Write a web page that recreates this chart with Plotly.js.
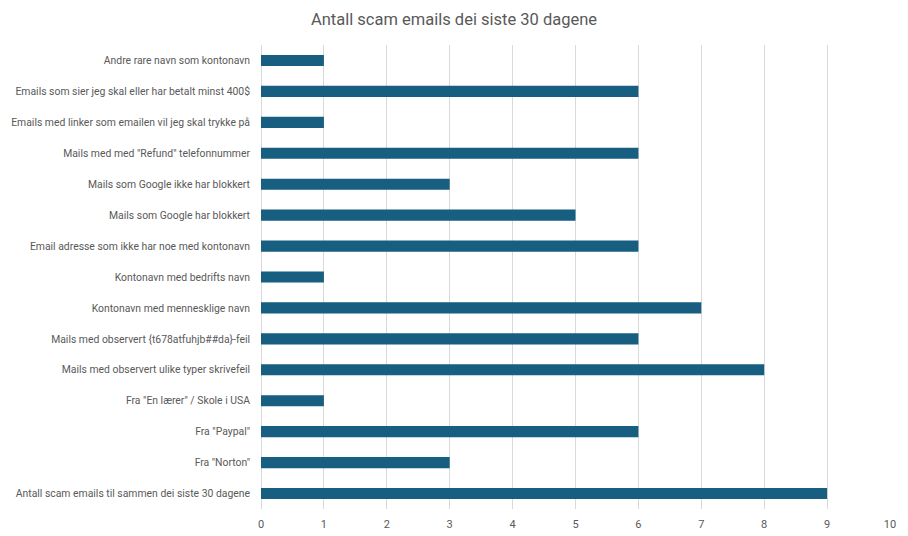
<!DOCTYPE html>
<html>
<head>
<meta charset="utf-8">
<script src="https://cdn.plot.ly/plotly-3.0.1.min.js"></script>
<style>html,body{margin:0;padding:0;background:#fff;}#chart{width:908px;height:536px;}</style>
</head>
<body>
<div id="chart"></div>
<script>
const categories = [
  'Antall scam emails til sammen dei siste 30 dagene',
  'Fra "Norton"',
  'Fra "Paypal"',
  'Fra "En lærer" / Skole i USA',
  'Mails med observert ulike typer skrivefeil',
  'Mails med observert {t678atfuhjb##da}-feil',
  'Kontonavn med mennesklige navn',
  'Kontonavn med bedrifts navn',
  'Email adresse som ikke har noe med kontonavn',
  'Mails som Google har blokkert',
  'Mails som Google ikke har blokkert',
  'Mails med med "Refund" telefonnummer',
  'Emails med linker som emailen vil jeg skal trykke på',
  'Emails som sier jeg skal eller har betalt minst 400$',
  'Andre rare navn som kontonavn'
];
const values = [9, 3, 6, 1, 8, 6, 7, 1, 6, 5, 3, 6, 1, 6, 1];
const xTicks = [0, 1, 2, 3, 4, 5, 6, 7, 8, 9, 10];

const font = 'Roboto, "Open Sans", sans-serif';
Plotly.newPlot('chart', [{
  type: 'bar',
  orientation: 'h',
  y: categories,
  x: values,
  width: 0.36,
  marker: {color: '#175e80'},
  hoverinfo: 'x+y'
}], {
  width: 908, height: 536,
  margin: {l: 261, r: 18, t: 45, b: 27},
  paper_bgcolor: '#ffffff', plot_bgcolor: '#ffffff',
  title: {text: 'Antall scam emails dei siste 30 dagene', x: 0.5, xanchor: 'center', y: 0.965, yanchor: 'middle',
          font: {family: font, size: 16.5, color: '#595959'}},
  xaxis: {range: [0, 10], tickvals: xTicks, ticktext: xTicks.map(String), showgrid: true, gridcolor: '#d9d9d9', gridwidth: 1,
          zeroline: true, zerolinecolor: '#d9d9d9', zerolinewidth: 1, showline: false, ticks: '',
          ticklabelstandoff: 7,
          tickfont: {family: font, size: 11, color: '#595959'}, fixedrange: true},
  yaxis: {type: 'category', categoryorder: 'array', categoryarray: categories, showgrid: false, zeroline: false, showline: false,
          ticks: '', ticklen: 0, ticklabelstandoff: 10, tickfont: {family: font, size: 10.4, color: '#595959'}, automargin: false, fixedrange: true},
  showlegend: false,
  bargap: 0.64
}, {displayModeBar: false, staticPlot: true});
</script>
</body>
</html>
